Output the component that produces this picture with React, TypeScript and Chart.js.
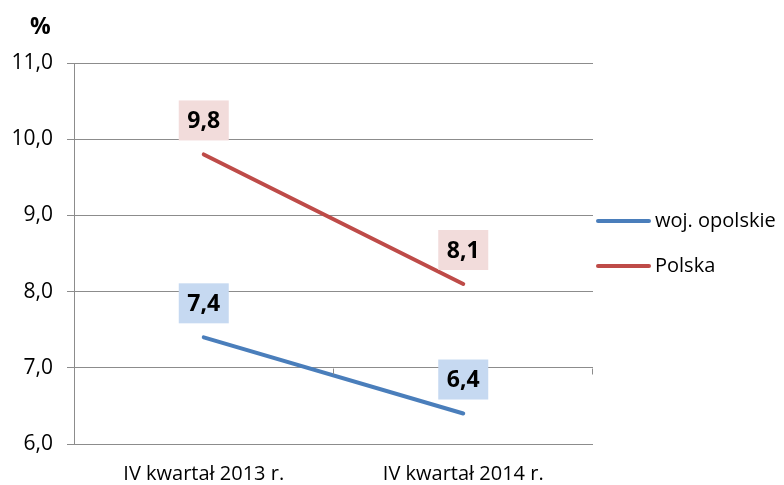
import React, { useEffect, useRef } from "react";
import { Chart, registerables } from "chart.js";

Chart.register(...registerables);

const categories = ["IV kwartał 2013 r.", "IV kwartał 2014 r."];
const opolskie = [7.4, 6.4];
const polska = [9.8, 8.1];
const seriesNames = ["woj. opolskie", "Polska"];
const yMin = 6;
const yMax = 11;
const yStep = 1;
const unitLabel = "%";

const FONT = "'Open Sans'";
const BLUE = "#4a7ebb";
const RED = "#be4b48";
const BLUE_BOX = "#c6d9f1";
const RED_BOX = "#f2dcdb";
const GRID = "#8c8c8c";

const fmt = (v: number) => v.toFixed(1).replace(".", ",");

const overlay = {
  id: "overlay",
  afterDatasetsDraw(chart: any) {
    const ctx = chart.ctx;
    const xs = chart.scales.x;
    const ys = chart.scales.y;
    ctx.save();
    // x-axis ticks on the 7.0 line (category boundaries)
    const y7 = Math.round(ys.getPixelForValue(7)) + 0.5;
    ctx.strokeStyle = GRID;
    ctx.lineWidth = 1;
    const bounds = [
      (xs.getPixelForValue(0) + xs.getPixelForValue(1)) / 2,
      xs.right,
    ];
    bounds.forEach((bx) => {
      const px = Math.round(bx) - 0.5;
      ctx.beginPath();
      ctx.moveTo(px, y7);
      ctx.lineTo(px, y7 + 6);
      ctx.stroke();
    });
    // data labels
    const boxCols = [BLUE_BOX, RED_BOX];
    chart.data.datasets.forEach((ds: any, di: number) => {
      const meta = chart.getDatasetMeta(di);
      meta.data.forEach((pt: any, i: number) => {
        const v = ds.data[i];
        const cx = pt.x;
        const bottom = pt.y - 14;
        const w = 50;
        const h = 40;
        ctx.fillStyle = boxCols[di];
        ctx.fillRect(cx - w / 2, bottom - h, w, h);
        ctx.fillStyle = "#000";
        ctx.font = `bold 23px ${FONT}`;
        ctx.textAlign = "center";
        ctx.textBaseline = "middle";
        ctx.fillText(fmt(v), cx, bottom - h / 2 + 1);
      });
    });
    // legend
    const legY = [221, 266];
    const legCols = [BLUE, RED];
    seriesNames.forEach((name, i) => {
      ctx.strokeStyle = legCols[i];
      ctx.lineWidth = 4;
      ctx.lineCap = "round";
      ctx.beginPath();
      ctx.moveTo(598, legY[i]);
      ctx.lineTo(649, legY[i]);
      ctx.stroke();
      ctx.fillStyle = "#000";
      ctx.font = `20px ${FONT}`;
      ctx.textAlign = "left";
      ctx.textBaseline = "middle";
      ctx.fillText(name, 655, legY[i]);
    });
    // unit label
    ctx.font = `bold 23px ${FONT}`;
    ctx.textAlign = "left";
    ctx.textBaseline = "middle";
    ctx.fillText(unitLabel, 30, 27);
    ctx.restore();
  },
};

export default function App() {
  const ref = useRef<HTMLCanvasElement>(null);
  useEffect(() => {
    document.body.style.margin = "0";
    const chart = new Chart(ref.current!, {
      type: "line",
      data: {
        labels: categories,
        datasets: [
          {
            label: seriesNames[0],
            data: opolskie,
            borderColor: BLUE,
            backgroundColor: BLUE,
            borderWidth: 4,
            pointRadius: 0,
            borderCapStyle: "round",
          },
          {
            label: seriesNames[1],
            data: polska,
            borderColor: RED,
            backgroundColor: RED,
            borderWidth: 4,
            pointRadius: 0,
            borderCapStyle: "round",
          },
        ],
      },
      options: {
        animation: false,
        responsive: false,
        layout: { padding: { top: 63, right: 191, left: 0, bottom: 0 } },
        plugins: { legend: { display: false }, tooltip: { enabled: false } },
        scales: {
          x: {
            type: "category",
            offset: true,
            grid: { display: false },
            border: { display: false },
            ticks: {
              color: "#000",
              font: { family: FONT, size: 20 },
              padding: 10,
              maxRotation: 0,
              autoSkip: false,
            },
            afterFit: (s: any) => {
              s.height = 41;
            },
          },
          y: {
            min: yMin,
            max: yMax,
            grid: { color: GRID, lineWidth: 1, tickLength: 7 },
            border: { display: true, color: GRID, width: 1 },
            ticks: {
              stepSize: yStep,
              color: "#000",
              font: { family: FONT, size: 21 },
              padding: 14,
              callback: (v: any) => fmt(Number(v)),
            },
            afterFit: (s: any) => {
              s.width = 74;
            },
          },
        },
      },
      plugins: [overlay],
    });
    return () => chart.destroy();
  }, []);
  return (
    <div style={{ position: "absolute", left: 0, top: 0, width: 784, height: 485 }}>
      <canvas ref={ref} width={784} height={485} />
    </div>
  );
}
